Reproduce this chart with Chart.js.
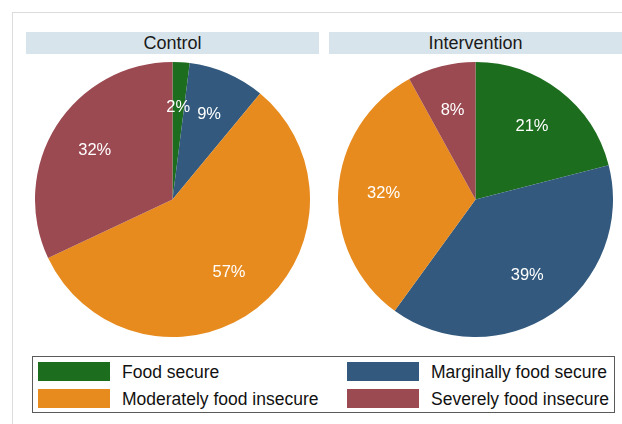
<!DOCTYPE html>
<html>
<head>
<meta charset="utf-8">
<script src="https://cdn.jsdelivr.net/npm/chart.js@4/dist/chart.umd.min.js"></script>
<style>
    body { margin: 0; width: 622px; height: 424px; overflow: hidden; background: #fff; font-family: "Liberation Sans", Arial, sans-serif; }
    #wrap { position: relative; width: 622px; height: 424px; overflow: hidden; }
    .frame { position: absolute; left: 12px; top: 12px; width: 700px; height: 500px; border: 1px solid #dcdcdc; }
    .panel-title { position: absolute; top: 32px; width: 293px; height: 22px; line-height: 22px; background: #d8e4eb; text-align: center; font-size: 18px; color: #1a1a1a; }
    .pie { position: absolute; top: 62px; }
    #legend { position: absolute; left: 32px; top: 356px; width: 583px; height: 57px; border: 1px solid #5a5a5a; box-sizing: border-box; }
    .item { position: absolute; height: 19px; font-size: 17.5px; color: #111; line-height: 20px; white-space: nowrap; }
    .swatch { position: absolute; left: 0; top: 0; width: 72px; height: 19px; box-sizing: border-box; }
    .item span { position: absolute; left: 84px; top: 0; }
</style>
</head>
<body>
<div id="wrap">
    <div class="frame"></div>
    <div class="panel-title" style="left:26px">Control</div>
    <div class="panel-title" style="left:329px">Intervention</div>
    <canvas id="pie-control" class="pie" style="left:35px"></canvas>
    <canvas id="pie-intervention" class="pie" style="left:338px"></canvas>
    <div id="legend"></div>
</div>
<script>
// --- Data ---
const categories = ['Food secure', 'Marginally food secure', 'Moderately food insecure', 'Severely food insecure'];
const controlValues = [2, 9, 57, 32];
const interventionValues = [21, 39, 32, 8];
const sliceColors = ['#1c6d1e', '#335a7e', '#e88b1e', '#9c4a52'];

const PIE_SIZE = 275;

// white percentage labels placed inside each slice
const sliceLabels = {
    id: 'sliceLabels',
    afterDatasetsDraw(chart) {
        const ctx = chart.ctx;
        const meta = chart.getDatasetMeta(0);
        const values = chart.data.datasets[0].data;
        const total = values.reduce((s, v) => s + v, 0);
        ctx.save();
        ctx.fillStyle = '#ffffff';
        ctx.font = '16.5px "Liberation Sans", Arial, sans-serif';
        ctx.textAlign = 'center';
        ctx.textBaseline = 'middle';
        meta.data.forEach((arc, i) => {
            const p = arc.getProps(['x', 'y', 'startAngle', 'endAngle', 'outerRadius'], true);
            const mid = (p.startAngle + p.endAngle) / 2;
            const r = p.outerRadius * 0.67;
            const pct = Math.round(values[i] / total * 100) + '%';
            ctx.fillText(pct, p.x + Math.cos(mid) * r, p.y + Math.sin(mid) * r);
        });
        ctx.restore();
    }
};

function makePie(id, values) {
    const canvas = document.getElementById(id);
    canvas.width = PIE_SIZE;
    canvas.height = PIE_SIZE;
    canvas.style.width = PIE_SIZE + 'px';
    canvas.style.height = PIE_SIZE + 'px';
    return new Chart(canvas, {
        type: 'pie',
        data: {
            labels: categories,
            datasets: [{
                data: values,
                backgroundColor: sliceColors,
                borderWidth: 0,
                hoverOffset: 0
            }]
        },
        options: {
            responsive: false,
            animation: false,
            layout: { padding: 0 },
            plugins: {
                legend: { display: false },
                tooltip: { enabled: false }
            }
        },
        plugins: [sliceLabels]
    });
}

makePie('pie-control', controlValues);
makePie('pie-intervention', interventionValues);

// --- Legend (2 columns, filled row by row) ---
const legend = document.getElementById('legend');
const colX = [5, 314];
const rowY = [5, 32];
categories.forEach((name, i) => {
    const item = document.createElement('div');
    item.className = 'item';
    item.style.left = colX[i % 2] + 'px';
    item.style.top = rowY[Math.floor(i / 2)] + 'px';
    item.innerHTML = '<div class="swatch" style="background:' + sliceColors[i] + '"></div><span>' + name + '</span>';
    legend.appendChild(item);
});
</script>
</body>
</html>
